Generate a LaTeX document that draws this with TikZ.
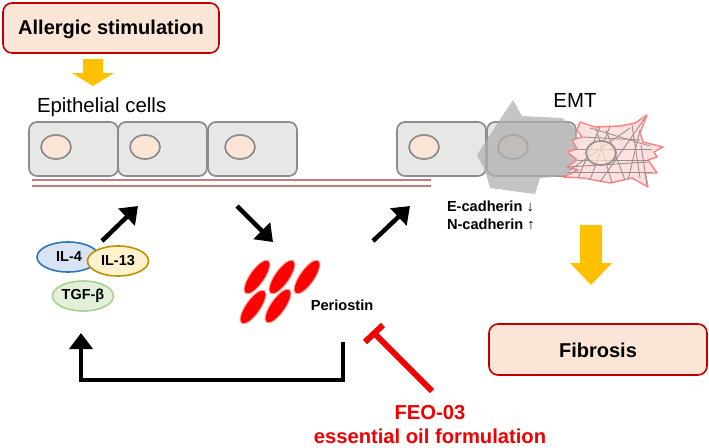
\documentclass[tikz,border=0pt]{standalone}
\usepackage{fontspec}
\setmainfont{Liberation Sans}
\usetikzlibrary{shapes.geometric,arrows.meta}
\definecolor{boxfill}{HTML}{FBE5D6}
\definecolor{boxline}{HTML}{C00000}
\definecolor{flow}{HTML}{FFC000}
\definecolor{cellfill}{HTML}{E7E7E7}
\definecolor{cellline}{HTML}{8C8C8C}
\definecolor{membrane}{HTML}{C47C7C}
\definecolor{meshline}{HTML}{9A8F8F}
\definecolor{inhibit}{HTML}{F00000}
\definecolor{ilblue}{HTML}{2E75B6}
\definecolor{ilbluefill}{HTML}{DAE3F3}
\definecolor{ilgold}{HTML}{BF9000}
\definecolor{ilgoldfill}{HTML}{FFF2CC}
\definecolor{tgfgreen}{HTML}{A9D18E}
\definecolor{tgffill}{HTML}{E2F0D9}
\tikzset{
  x=1pt,y=-1pt,
  every node/.style={inner sep=0pt,outer sep=0pt},
  label box/.style={draw=boxline,fill=boxfill,line width=1.6pt,rounded corners=9pt,anchor=north west},
  cellbody/.style={draw=cellline,fill=cellfill,line width=1.7pt,rounded corners=8pt,anchor=north west,minimum height=54pt,minimum width=89pt},
  nucleus/.style={ellipse,draw=cellline,fill=boxfill,line width=1.7pt,minimum width=30pt,minimum height=24pt},
  bold14/.style={font=\fontsize{14.6}{17}\selectfont\bfseries},
  cyto/.style={ellipse,line width=1.6pt,minimum width=61pt,minimum height=30pt,font=\fontsize{14.5}{17}\selectfont\bfseries},
  secreted/.style={ellipse,fill=red,draw=red!30!boxfill,line width=1pt,minimum width=40pt,minimum height=14.5pt,rotate=55},
  signal/.style={draw=black,line width=4.5pt,-{Triangle[length=16pt,width=23pt]}},
  flowarrow/.style={fill=flow,draw=none},
  membraneline/.style={draw=membrane,line width=1.2pt},
}
\begin{document}
\begin{tikzpicture}
\useasboundingbox (0,0) rectangle (709,447);

% Stimulus box and the arrow below it
\node[label box,minimum width=216pt,minimum height=50pt] (allergic) at (3,3) {};
\node[font=\fontsize{20}{22}\selectfont\bfseries] at (111,29) {Allergic stimulation};
\fill[flowarrow] (83,59) -- (103,59) -- (103,73) -- (114,73) -- (93,86) -- (72,73) -- (83,73) -- cycle;

\node[font=\fontsize{20.4}{22}\selectfont,anchor=base west] (epi) at (37,112) {Epithelial cells};

% Epithelial layer
\node[cellbody] (c1) at (29,122) {};
\node[cellbody] (c2) at (118,122) {};
\node[cellbody] (c3) at (208,122) {};
\node[nucleus] (n1) at (56,147) {};
\node[nucleus] (n2) at (145,147) {};
\node[nucleus] (n3) at (240,147) {};

% Basement membrane
\coordinate (mA1) at (32,180); \coordinate (mA2) at (431,180);
\coordinate (mB1) at (32,186); \coordinate (mB2) at (431,186);
\draw[membraneline] (mA1) -- (mA2);
\draw[membraneline] (mB1) -- (mB2);

% Cells undergoing transition
\node[cellbody] (c4) at (397,122) {};
\node[cellbody] (c5) at (487,122) {};
\node[nucleus] (n4) at (424,147) {};
\node[nucleus] (n5) at (513,147) {};
\fill[gray!62,opacity=.75] (513,100) -- (522,116) -- (562,118) -- (577,130) -- (577,165) -- (565,176) -- (540,178) -- (535,194) -- (490,188) -- (485,170) -- (477,155) -- (495,127) -- cycle;

% Mesenchymal cell
\draw[draw=red!50!white,fill=red!12!white,line width=1.4pt,line join=round]
  (580,122) -- (595,127) -- (620,126) -- (635,123) -- (647,115) -- (640,133) -- (643,142) -- (663,147) -- (654,152) -- (657,157) -- (648,160) -- (657,173) -- (645,173) -- (648,187) -- (632,178) -- (610,183) -- (583,178) -- (563,177) -- (578,170) -- (567,167) -- (577,160) -- (567,152) -- (577,149) -- (572,140) -- (582,137) -- (577,130) -- cycle;
\begin{scope}[draw=meshline,line width=.9pt]
  \draw (577,149) -- (652,149);
  \draw (567,167) -- (648,162);
  \draw (567,172) -- (652,172);
  \draw (578,160) -- (648,160);
  \draw (590,128) -- (650,146);
  \draw (583,137) -- (640,140);
  \draw (578,178) -- (600,127);
  \draw (590,180) -- (610,126);
  \draw (600,182) -- (645,118);
  \draw (612,183) -- (596,128);
  \draw (625,180) -- (606,130);
  \draw (640,178) -- (632,125);
  \draw (628,180) -- (640,130);
  \draw (570,170) -- (630,128);
  \draw (647,185) -- (641,145);
\end{scope}
\node[ellipse,draw=meshline,fill=boxfill,fill opacity=.7,line width=1.7pt,minimum width=30pt,minimum height=24pt] (n6) at (601,153) {};

\node[font=\fontsize{20.4}{22}\selectfont] (emt) at (575,100) {EMT};
\node[bold14,anchor=base west] (ecad) at (447,211) {E-cadherin ↓};
\node[bold14,anchor=base west] (ncad) at (447,229) {N-cadherin ↑};

% Signalling arrows
\coordinate (s1a) at (102,241); \coordinate (s1b) at (138,206);
\coordinate (s2a) at (237,206); \coordinate (s2b) at (273,242);
\coordinate (s3a) at (373,241); \coordinate (s3b) at (410,206);
\draw[signal] (s1a) -- (s1b);
\draw[signal] (s2a) -- (s2b);
\draw[signal] (s3a) -- (s3b);

% Cytokines
\node[cyto,draw=ilblue,fill=ilbluefill,minimum width=62pt] (il4) at (68,257) {};
\node[font=\fontsize{14.5}{17}\selectfont\bfseries] at (69,257) {IL-4};
\node[cyto,draw=ilgold,fill=ilgoldfill] (il13) at (118,261) {IL-13};
\node[cyto,draw=tgfgreen,fill=tgffill] (tgf) at (83,296) {TGF-β};

% Secreted protein
\node[secreted] (p1) at (257,277) {};
\node[secreted] (p2) at (282,277) {};
\node[secreted] (p3) at (307,277) {};
\node[secreted] (p4) at (253,307) {};
\node[secreted] (p5) at (278,306) {};
\node[bold14] (periostin) at (342,305) {Periostin};

% Feedback loop
\coordinate (fbA) at (343,342); \coordinate (fbB) at (343,380);
\coordinate (fbC) at (81,380); \coordinate (fbD) at (81,333);
\draw[signal,line join=miter] (fbA) -- (fbB) -- (fbC) -- (fbD);

% Inhibition
\coordinate (inA) at (432,391); \coordinate (inB) at (374,333);
\coordinate (barA) at (365,342); \coordinate (barB) at (383,325);
\draw[inhibit,line width=6pt] (inA) -- (inB);
\draw[inhibit,line width=6pt] (barA) -- (barB);
\node[font=\fontsize{20.2}{22}\selectfont\bfseries,text=inhibit] (feo) at (430,413) {FEO-03};
\node[font=\fontsize{20.2}{22}\selectfont\bfseries,text=inhibit] (oil) at (430,436) {essential oil formulation};

% Outcome
\fill[flowarrow] (580,225) -- (602,225) -- (602,263) -- (612,263) -- (591,285) -- (570,263) -- (580,263) -- cycle;
\node[label box,minimum width=218pt,minimum height=51pt] (fibrosis) at (489,324) {};
\node[font=\fontsize{20}{22}\selectfont\bfseries] at (598,350) {Fibrosis};
\end{tikzpicture}
\end{document}
